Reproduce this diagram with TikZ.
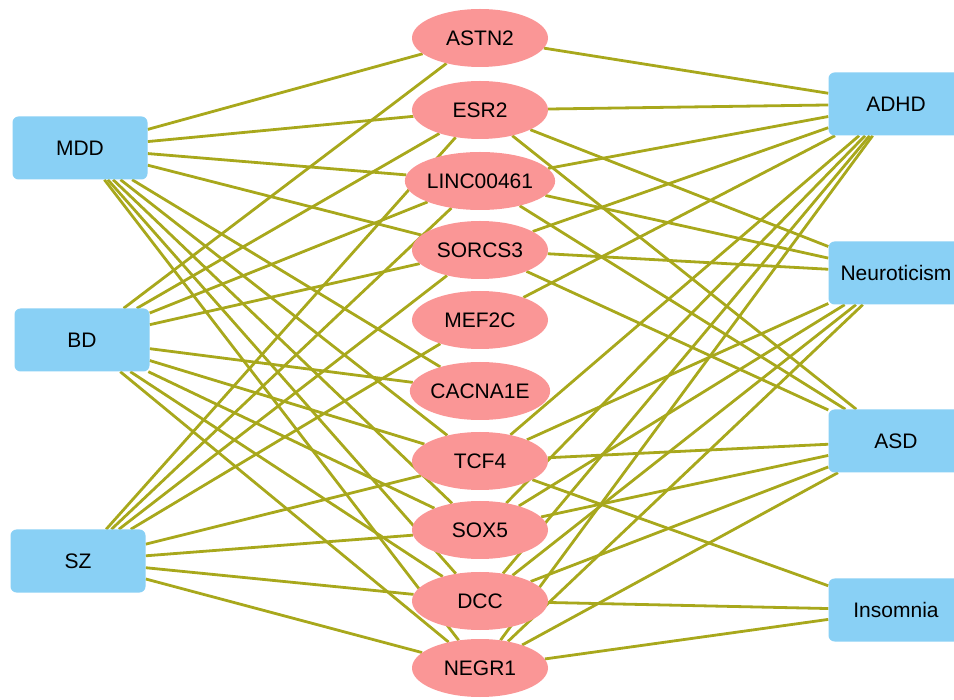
\documentclass[tikz,border=0pt]{standalone}
\usepackage{fontspec}
\setmainfont{Liberation Sans}
\usetikzlibrary{shapes.geometric,backgrounds}
\definecolor{dis}{RGB}{137,208,245}
\definecolor{gen}{RGB}{250,150,150}
\definecolor{edg}{RGB}{168,168,28}
\begin{document}
\begin{tikzpicture}[x=1pt,y=-1pt,
  disease/.style={rectangle,rounded corners=6pt,fill=dis,draw=none,minimum width=135pt,minimum height=63pt,inner sep=0pt,font=\fontsize{21}{24}\selectfont},
  gene/.style={ellipse,fill=gen,draw=none,minimum width=136pt,minimum height=58pt,inner sep=0pt,font=\fontsize{21}{24}\selectfont},
  link/.style={draw=edg,line width=2.8pt}]
\useasboundingbox (0,0) rectangle (954,700);
\node[disease] (MDD) at (80,148) {MDD};
\node[disease] (BD) at (82,340) {BD};
\node[disease] (SZ) at (78,561) {SZ};
\node[disease] (ADHD) at (896,104) {ADHD};
\node[disease] (NEU) at (896,273) {Neuroticism};
\node[disease] (ASD) at (896,441) {ASD};
\node[disease] (INS) at (896,610) {Insomnia};
\node[gene] (ASTN2) at (480,38) {ASTN2};
\node[gene] (ESR2) at (480,110) {ESR2};
\node[gene] (LINC) at (480,181) {LINC00461};
\node[gene] (SORCS3) at (480,250) {SORCS3};
\node[gene] (MEF2C) at (480,320) {MEF2C};
\node[gene] (CACNA1E) at (480,391) {CACNA1E};
\node[gene] (TCF4) at (480,461) {TCF4};
\node[gene] (SOX5) at (480,530) {SOX5};
\node[gene] (DCC) at (480,601) {DCC};
\node[gene] (NEGR1) at (480,668) {NEGR1};
\begin{scope}[on background layer]
\foreach \g in {ASTN2,ESR2,LINC,SORCS3,CACNA1E,TCF4,SOX5,DCC,NEGR1}
  \draw[link] (MDD) -- (\g);
\foreach \g in {ASTN2,ESR2,LINC,SORCS3,CACNA1E,TCF4,SOX5,DCC,NEGR1}
  \draw[link] (BD) -- (\g);
\foreach \g in {ESR2,LINC,SORCS3,MEF2C,TCF4,SOX5,DCC,NEGR1}
  \draw[link] (SZ) -- (\g);
\foreach \g in {ASTN2,ESR2,LINC,SORCS3,MEF2C,TCF4,SOX5,DCC,NEGR1}
  \draw[link] (ADHD) -- (\g);
\foreach \g in {ESR2,LINC,SORCS3,TCF4,SOX5,DCC,NEGR1}
  \draw[link] (NEU) -- (\g);
\foreach \g in {ESR2,LINC,SORCS3,TCF4,SOX5,DCC,NEGR1}
  \draw[link] (ASD) -- (\g);
\foreach \g in {TCF4,DCC,NEGR1}
  \draw[link] (INS) -- (\g);
\end{scope}
\end{tikzpicture}
\end{document}
